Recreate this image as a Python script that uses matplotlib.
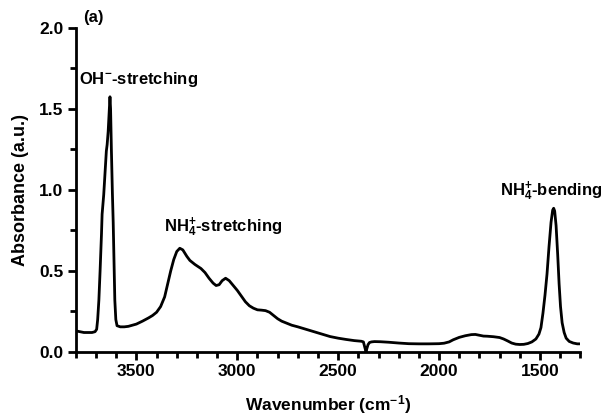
import matplotlib
matplotlib.use("Agg")
import matplotlib.pyplot as plt
from matplotlib.ticker import MultipleLocator, FormatStrFormatter

# FTIR spectrum (wavenumber in cm^-1, absorbance)
wavenumber = [3800, 3780, 3760, 3740, 3720, 3705, 3697, 3692, 3686, 3680, 3673, 3670,
              3662, 3655, 3649, 3645, 3640, 3635, 3631, 3628, 3624, 3619, 3615, 3611,
              3607, 3602, 3596, 3580, 3560, 3540, 3520, 3500, 3470, 3440, 3420, 3400,
              3380, 3360, 3345, 3330, 3315, 3300, 3285, 3270, 3250, 3235, 3210, 3180,
              3160, 3140, 3120, 3105, 3090, 3075, 3058, 3040, 3020, 3000, 2980, 2960,
              2940, 2920, 2900, 2880, 2860, 2840, 2820, 2800, 2780, 2760, 2730, 2700,
              2660, 2620, 2580, 2540, 2500, 2460, 2420, 2385, 2375, 2368, 2362, 2358,
              2352, 2345, 2335, 2320, 2290, 2250, 2200, 2150, 2100, 2050, 2000, 1975,
              1950, 1930, 1900, 1870, 1840, 1820, 1800, 1780, 1760, 1730, 1700, 1680,
              1660, 1640, 1620, 1600, 1580, 1560, 1540, 1520, 1505, 1495, 1485, 1475,
              1465, 1455, 1445, 1437, 1432, 1427, 1420, 1412, 1405, 1398, 1390, 1380,
              1370, 1355, 1335, 1315, 1300]
absorbance = [0.13, 0.125, 0.12, 0.12, 0.12, 0.125, 0.14, 0.2, 0.32, 0.5, 0.73, 0.85,
              0.97, 1.12, 1.24, 1.28, 1.36, 1.48, 1.575, 1.5, 1.25, 0.98, 0.8, 0.55,
              0.32, 0.2, 0.162, 0.155, 0.155, 0.158, 0.165, 0.172, 0.19, 0.21, 0.225, 0.245,
              0.28, 0.34, 0.42, 0.5, 0.57, 0.62, 0.64, 0.63, 0.59, 0.565, 0.54, 0.515,
              0.49, 0.455, 0.425, 0.41, 0.415, 0.44, 0.455, 0.44, 0.41, 0.38, 0.345, 0.31,
              0.285, 0.27, 0.26, 0.258, 0.255, 0.245, 0.225, 0.205, 0.19, 0.18, 0.165, 0.155,
              0.14, 0.125, 0.11, 0.095, 0.085, 0.077, 0.07, 0.066, 0.062, 0.03, 0.0, 0.02,
              0.045, 0.058, 0.062, 0.064, 0.063, 0.06, 0.055, 0.051, 0.05, 0.05, 0.051, 0.054,
              0.062, 0.075, 0.09, 0.1, 0.107, 0.108, 0.103, 0.098, 0.097, 0.094, 0.089, 0.08,
              0.068, 0.055, 0.048, 0.046, 0.047, 0.052, 0.062, 0.08, 0.11, 0.15, 0.24, 0.35,
              0.48, 0.65, 0.8, 0.875, 0.887, 0.87, 0.78, 0.6, 0.42, 0.28, 0.18, 0.12,
              0.085, 0.065, 0.055, 0.05, 0.05]

plt.rcParams['font.family'] = ['Liberation Sans', 'DejaVu Sans']
plt.rcParams['font.weight'] = 'bold'
plt.rcParams['mathtext.fontset'] = 'custom'
plt.rcParams['mathtext.rm'] = 'Liberation Sans:bold'
plt.rcParams['mathtext.bf'] = 'Liberation Sans:bold'
plt.rcParams['mathtext.default'] = 'bf'

fig = plt.figure(figsize=(6.07, 4.17), dpi=100)
ax = fig.add_axes([0.125, 0.156, 0.831, 0.777])

ax.plot(wavenumber, absorbance, color='black', lw=2.0)

ax.set_xlim(3800, 1300)
ax.set_ylim(0, 2.0)
ax.xaxis.set_major_locator(MultipleLocator(500))
ax.xaxis.set_minor_locator(MultipleLocator(100))
ax.yaxis.set_major_locator(MultipleLocator(0.5))
ax.yaxis.set_minor_locator(MultipleLocator(0.25))
ax.yaxis.set_major_formatter(FormatStrFormatter('%.1f'))

for s in ['top', 'right']:
    ax.spines[s].set_visible(False)
for s in ['bottom', 'left']:
    ax.spines[s].set_linewidth(2)
ax.tick_params(which='major', direction='out', length=6, width=2, labelsize=12.5, pad=3)
ax.tick_params(which='minor', direction='out', length=4, width=2)
for lab in ax.get_xticklabels() + ax.get_yticklabels():
    lab.set_fontweight('bold')

ax.set_xlabel('Wavenumber (cm$^{-1}$)', fontsize=12.5, fontweight='bold', labelpad=10)
ax.set_ylabel('Absorbance (a.u.)', fontsize=13, fontweight='bold', labelpad=7)

ax.text(3765, 2.02, '(a)', fontsize=12, fontweight='bold', va='bottom')
ax.text(3487, 1.68, 'OH$^{-}$-stretching', fontsize=12, fontweight='bold',
        ha='center', va='center')
ax.text(3071, 0.77, 'NH$_{4}^{+}$-stretching', fontsize=12,
        fontweight='bold', ha='center', va='center')
ax.text(1444, 0.99, 'NH$_{4}^{+}$-bending', fontsize=12,
        fontweight='bold', ha='center', va='center')

fig.savefig('out.png', dpi=100)
